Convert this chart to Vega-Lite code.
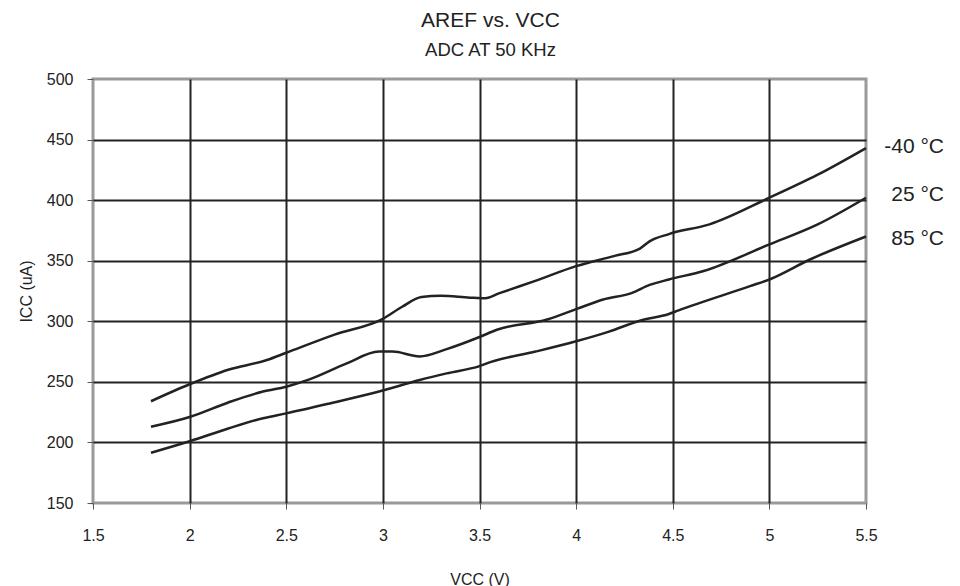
{
  "$schema": "https://vega.github.io/schema/vega-lite/v6.json",
  "autosize": {"type": "none"},
  "width": 773,
  "height": 424,
  "padding": {"left": 93, "top": 79, "right": 94, "bottom": 83},
  "background": "white",
  "title": {
    "text": "AREF vs. VCC",
    "subtitle": "ADC AT 50 KHz",
    "anchor": "middle",
    "dx": 11,
    "font": "Liberation Sans",
    "fontSize": 21,
    "fontWeight": "normal",
    "color": "#222",
    "subtitleFont": "Liberation Sans",
    "subtitleFontSize": 18.5,
    "subtitleColor": "#222",
    "subtitlePadding": 10,
    "offset": 12
  },
  "config": {
    "view": {"stroke": "#9a9a9a", "strokeWidth": 3},
    "axis": {
      "labelFont": "Liberation Sans",
      "labelFontSize": 16,
      "labelColor": "#222",
      "titleFont": "Liberation Sans",
      "titleFontSize": 16,
      "titleFontWeight": "normal",
      "titleColor": "#222",
      "domain": false,
      "tickColor": "#555",
      "tickSize": 6,
      "gridWidth": 2,
      "labelFlush": false
    }
  },
  "datasets": {
    "curves": [
      {"T": "-40 °C", "V": 1.8, "I": 234},
      {"T": "-40 °C", "V": 2.0, "I": 248},
      {"T": "-40 °C", "V": 2.2, "I": 260},
      {"T": "-40 °C", "V": 2.4, "I": 268},
      {"T": "-40 °C", "V": 2.5, "I": 274},
      {"T": "-40 °C", "V": 2.75, "I": 289},
      {"T": "-40 °C", "V": 3.0, "I": 302},
      {"T": "-40 °C", "V": 3.1, "I": 312},
      {"T": "-40 °C", "V": 3.2, "I": 320},
      {"T": "-40 °C", "V": 3.3, "I": 321},
      {"T": "-40 °C", "V": 3.45, "I": 319.5},
      {"T": "-40 °C", "V": 3.53, "I": 319},
      {"T": "-40 °C", "V": 3.6, "I": 323},
      {"T": "-40 °C", "V": 3.8, "I": 334},
      {"T": "-40 °C", "V": 4.0, "I": 345.5},
      {"T": "-40 °C", "V": 4.2, "I": 354},
      {"T": "-40 °C", "V": 4.33, "I": 360},
      {"T": "-40 °C", "V": 4.38, "I": 366},
      {"T": "-40 °C", "V": 4.48, "I": 372},
      {"T": "-40 °C", "V": 4.69, "I": 380},
      {"T": "-40 °C", "V": 5.0, "I": 402},
      {"T": "-40 °C", "V": 5.25, "I": 421},
      {"T": "-40 °C", "V": 5.5, "I": 443},
      {"T": "25 °C", "V": 1.8, "I": 213},
      {"T": "25 °C", "V": 2.0, "I": 221},
      {"T": "25 °C", "V": 2.2, "I": 233},
      {"T": "25 °C", "V": 2.38, "I": 242},
      {"T": "25 °C", "V": 2.5, "I": 246},
      {"T": "25 °C", "V": 2.62, "I": 252},
      {"T": "25 °C", "V": 2.81, "I": 265},
      {"T": "25 °C", "V": 2.98, "I": 275},
      {"T": "25 °C", "V": 3.05, "I": 275},
      {"T": "25 °C", "V": 3.19, "I": 271},
      {"T": "25 °C", "V": 3.33, "I": 277},
      {"T": "25 °C", "V": 3.5, "I": 287},
      {"T": "25 °C", "V": 3.59, "I": 293},
      {"T": "25 °C", "V": 3.85, "I": 301.5},
      {"T": "25 °C", "V": 4.0, "I": 310},
      {"T": "25 °C", "V": 4.14, "I": 318},
      {"T": "25 °C", "V": 4.29, "I": 323.5},
      {"T": "25 °C", "V": 4.38, "I": 330},
      {"T": "25 °C", "V": 4.48, "I": 334.5},
      {"T": "25 °C", "V": 4.66, "I": 341.5},
      {"T": "25 °C", "V": 5.0, "I": 363.5},
      {"T": "25 °C", "V": 5.25, "I": 380},
      {"T": "25 °C", "V": 5.5, "I": 402},
      {"T": "85 °C", "V": 1.8, "I": 191.5},
      {"T": "85 °C", "V": 2.0, "I": 201},
      {"T": "85 °C", "V": 2.2, "I": 211.5},
      {"T": "85 °C", "V": 2.38, "I": 220},
      {"T": "85 °C", "V": 2.5, "I": 224},
      {"T": "85 °C", "V": 2.72, "I": 232},
      {"T": "85 °C", "V": 2.98, "I": 242},
      {"T": "85 °C", "V": 3.19, "I": 251.5},
      {"T": "85 °C", "V": 3.33, "I": 257},
      {"T": "85 °C", "V": 3.5, "I": 263},
      {"T": "85 °C", "V": 3.56, "I": 266.5},
      {"T": "85 °C", "V": 3.79, "I": 275},
      {"T": "85 °C", "V": 4.0, "I": 283.5},
      {"T": "85 °C", "V": 4.17, "I": 291.5},
      {"T": "85 °C", "V": 4.33, "I": 300.5},
      {"T": "85 °C", "V": 4.48, "I": 306},
      {"T": "85 °C", "V": 4.53, "I": 309},
      {"T": "85 °C", "V": 4.9, "I": 329},
      {"T": "85 °C", "V": 5.0, "I": 334.5},
      {"T": "85 °C", "V": 5.21, "I": 351},
      {"T": "85 °C", "V": 5.5, "I": 370}
    ],
    "labels": [
      {"T": "-40 °C", "V": 5.5, "I": 444},
      {"T": "25 °C", "V": 5.5, "I": 404},
      {"T": "85 °C", "V": 5.5, "I": 368}
    ]
  },
  "layer": [
    {
      "data": {"name": "curves"},
      "mark": {"type": "line", "interpolate": "monotone", "color": "#222", "strokeWidth": 2.5},
      "encoding": {
        "x": {
          "field": "V", "type": "quantitative",
          "scale": {"domain": [1.5, 5.5], "nice": false, "zero": false},
          "axis": {
            "title": "VCC (V)",
            "values": [1.5, 2, 2.5, 3, 3.5, 4, 4.5, 5, 5.5],
            "format": "~g",
            "labelPadding": 18,
            "titlePadding": 28,
            "gridColor": {"condition": {"test": "datum.value < 1.6 || datum.value > 5.4", "value": "rgba(0,0,0,0)"}, "value": "#222"}
          }
        },
        "y": {
          "field": "I", "type": "quantitative",
          "scale": {"domain": [150, 500], "nice": false, "zero": false},
          "axis": {
            "title": "ICC (uA)",
            "values": [150, 200, 250, 300, 350, 400, 450, 500],
            "labelPadding": 14,
            "titlePadding": 12,
            "gridColor": {"condition": {"test": "datum.value < 160 || datum.value > 490", "value": "rgba(0,0,0,0)"}, "value": "#222"}
          }
        },
        "detail": {"field": "T", "type": "nominal"}
      }
    },
    {
      "data": {"name": "labels"},
      "mark": {"type": "text", "align": "right", "baseline": "middle", "dx": 78, "font": "Liberation Sans", "fontSize": 21, "color": "#222", "clip": false},
      "encoding": {
        "x": {"field": "V", "type": "quantitative"},
        "y": {"field": "I", "type": "quantitative"},
        "text": {"field": "T", "type": "nominal"}
      }
    }
  ]
}
